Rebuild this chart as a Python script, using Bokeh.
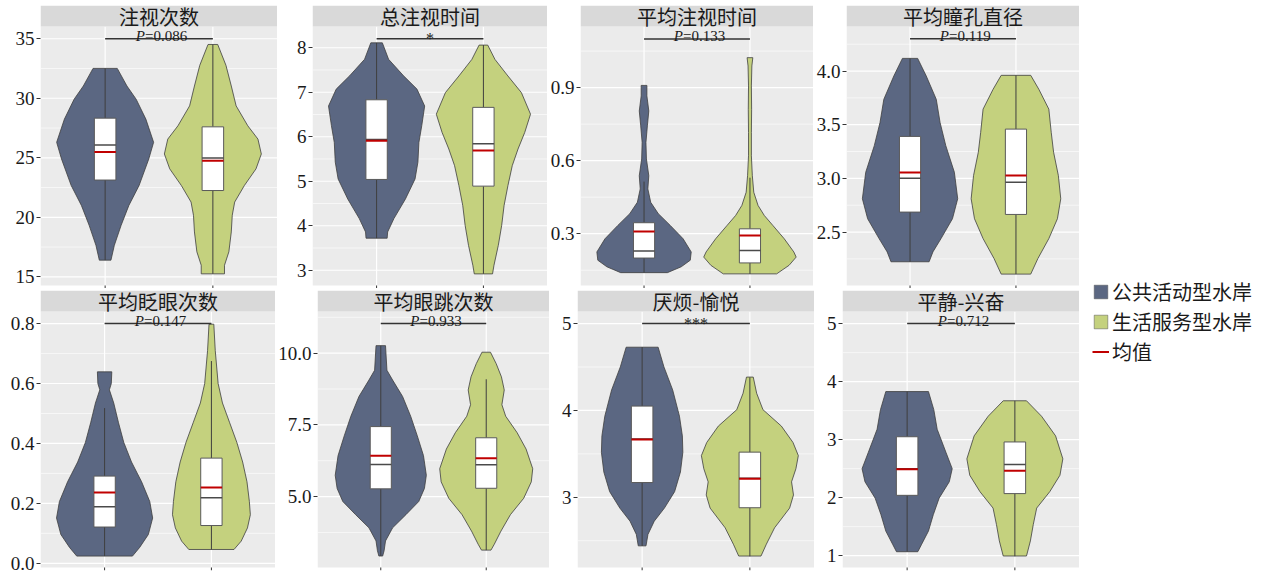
from bokeh.plotting import figure
from bokeh.layouts import row, column
from bokeh.models import Range1d, FixedTicker, Legend, LegendItem
from bokeh.core.properties import value
from bokeh.embed import file_html
from bokeh.resources import INLINE

# ---------------------------------------------------------------- data
GROUPS = ["公共活动型水岸", "生活服务型水岸"]
MEAN_LABEL = "均值"
TITLES = ["注视次数", "总注视时间", "平均注视时间", "平均瞳孔直径",
          "平均眨眼次数", "平均眼跳次数", "厌烦-愉悦", "平静-兴奋"]
SIG_LABELS = ["P=0.086", "*", "P=0.133", "P=0.119",
              "P=0.147", "P=0.933", "***", "P=0.712"]
BRACKET_Y = [35.0, 8.2, 1.10, 4.30, 0.80, 11.03, 5.0, 5.0]

Y_LIMITS = [(14.27, 36.03), (2.657, 8.477), (0.0872, 1.151), (2.002, 4.415),
            (-0.0141, 0.8404), (2.528, 11.452), (2.192, 5.139), (0.796, 5.209)]
Y_TICKS = [[15, 20, 25, 30, 35], [3, 4, 5, 6, 7, 8], [0.3, 0.6, 0.9],
           [2.5, 3.0, 3.5, 4.0], [0.0, 0.2, 0.4, 0.6, 0.8], [5.0, 7.5, 10.0],
           [3, 4, 5], [1, 2, 3, 4, 5]]
Y_TICK_LABELS = [["15", "20", "25", "30", "35"], ["3", "4", "5", "6", "7", "8"],
                 ["0.3", "0.6", "0.9"], ["2.5", "3.0", "3.5", "4.0"],
                 ["0.0", "0.2", "0.4", "0.6", "0.8"], ["5.0", "7.5", "10.0"],
                 ["3", "4", "5"], ["1", "2", "3", "4", "5"]]

# box statistics, 公共活动型水岸
PUB_Q1 = [23.13, 5.04, 0.200, 2.686, 0.121, 5.27, 3.17, 2.04]
PUB_MED = [26.07, 5.94, 0.229, 3.002, 0.189, 6.12, 3.67, 2.50]
PUB_Q3 = [28.33, 6.83, 0.345, 3.391, 0.291, 7.44, 4.05, 3.05]
PUB_MEAN = [25.48, 5.91, 0.309, 3.054, 0.236, 6.42, 3.665, 2.49]
PUB_WLO = [16.40, 3.72, 0.140, 2.223, 0.024, 2.93, 2.44, 1.07]
PUB_WHI = [32.51, 8.11, 0.514, 4.118, 0.518, 10.26, 4.73, 3.83]

# box statistics, 生活服务型水岸
LIV_Q1 = [22.25, 4.89, 0.180, 2.664, 0.126, 5.29, 2.88, 2.07]
LIV_MED = [24.98, 5.84, 0.231, 2.965, 0.219, 6.11, 3.22, 2.57]
LIV_Q3 = [27.60, 6.66, 0.320, 3.459, 0.351, 7.05, 3.52, 2.96]
LIV_MEAN = [24.76, 5.69, 0.293, 3.026, 0.253, 6.34, 3.215, 2.465]
LIV_WLO = [15.25, 2.92, 0.135, 2.108, 0.046, 3.13, 2.32, 0.99]
LIV_WHI = [34.52, 8.06, 0.530, 3.960, 0.675, 9.09, 4.38, 3.67]

# violin outlines: value levels and relative half-widths (1 = widest)
PUB_VIOLIN_Y = [
    [32.51, 31.03, 29.92, 28.25, 26.3, 24.9, 22.67, 21.0, 19.33, 17.65, 16.4],
    [8.11, 7.74, 7.37, 7.07, 6.69, 6.25, 5.87, 5.43, 5.05, 4.60, 4.16, 3.86, 3.72],
    [0.909, 0.866, 0.804, 0.743, 0.675, 0.607, 0.538, 0.484, 0.429, 0.382,
     0.334, 0.279, 0.225, 0.191, 0.164, 0.140],
    [4.118, 3.954, 3.737, 3.521, 3.305, 3.057, 2.810, 2.624, 2.439, 2.315, 2.223],
    [0.639, 0.600, 0.579, 0.535, 0.469, 0.403, 0.338, 0.272, 0.206, 0.151,
     0.096, 0.053, 0.024],
    [10.262, 9.404, 9.061, 8.489, 7.802, 7.116, 6.429, 5.743, 5.285, 4.828,
     4.370, 3.912, 3.454, 3.111, 2.928],
    [4.728, 4.501, 4.236, 3.934, 3.707, 3.518, 3.291, 3.065, 2.876, 2.725, 2.573, 2.441],
    [3.829, 3.517, 3.178, 2.782, 2.499, 2.274, 1.991, 1.707, 1.424, 1.198, 1.068],
]
PUB_VIOLIN_W = [
    [0.25, 0.45, 0.64, 0.84, 1.0, 0.9, 0.7, 0.49, 0.33, 0.19, 0.12],
    [0.12, 0.25, 0.56, 0.84, 1.0, 0.94, 0.88, 0.86, 0.8, 0.6, 0.36, 0.23, 0.22],
    [0.06, 0.06, 0.1, 0.07, 0.04, 0.05, 0.1, 0.08, 0.14, 0.3, 0.55, 0.82, 0.99,
     0.97, 0.78, 0.49],
    [0.16, 0.34, 0.55, 0.63, 0.75, 0.93, 1.0, 0.89, 0.65, 0.48, 0.4],
    [0.15, 0.14, 0.1, 0.19, 0.29, 0.4, 0.56, 0.77, 0.94, 1.0, 0.91, 0.73, 0.58],
    [0.1, 0.13, 0.25, 0.46, 0.63, 0.77, 0.9, 0.96, 0.92, 0.8, 0.53, 0.25, 0.1,
     0.07, 0.04],
    [0.33, 0.45, 0.63, 0.77, 0.83, 0.84, 0.79, 0.67, 0.46, 0.25, 0.12, 0.08],
    [0.44, 0.55, 0.62, 0.8, 0.93, 0.87, 0.66, 0.54, 0.44, 0.3, 0.22],
]
LIV_VIOLIN_Y = [
    [34.52, 32.77, 31.03, 29.36, 27.69, 26.57, 25.32, 24.07, 22.67, 21.28,
     20.17, 18.77, 17.1, 15.97, 15.25],
    [8.059, 7.738, 7.365, 6.992, 6.507, 6.097, 5.724, 5.350, 4.902, 4.455,
     4.007, 3.559, 3.112, 2.918],
    [1.023, 0.989, 0.907, 0.811, 0.716, 0.620, 0.538, 0.470, 0.416, 0.375,
     0.334, 0.279, 0.225, 0.204, 0.170, 0.135],
    [3.960, 3.830, 3.645, 3.429, 3.243, 3.026, 2.810, 2.624, 2.439, 2.253, 2.108],
    [0.798, 0.710, 0.600, 0.535, 0.469, 0.403, 0.338, 0.272, 0.206, 0.162,
     0.118, 0.074, 0.046],
    [10.033, 9.633, 9.175, 8.717, 8.202, 7.802, 7.230, 6.657, 5.971, 5.514,
     4.942, 4.370, 3.797, 3.339, 3.134],
    [4.384, 4.198, 4.009, 3.820, 3.631, 3.480, 3.329, 3.178, 3.027, 2.876,
     2.649, 2.460, 2.324],
    [3.670, 3.404, 3.065, 2.669, 2.386, 2.103, 1.820, 1.537, 1.254, 0.994],
]
LIV_VIOLIN_W = [
    [0.1, 0.27, 0.38, 0.48, 0.72, 0.93, 1.0, 0.89, 0.65, 0.45, 0.4, 0.38, 0.33,
     0.24, 0.24],
    [0.09, 0.24, 0.51, 0.79, 0.98, 0.86, 0.72, 0.6, 0.51, 0.43, 0.38, 0.31, 0.22, 0.19],
    [0.06, 0.04, 0.03, 0.035, 0.03, 0.03, 0.05, 0.08, 0.17, 0.3, 0.48, 0.72,
     0.92, 0.97, 0.82, 0.56],
    [0.31, 0.48, 0.69, 0.74, 0.79, 0.89, 0.94, 0.87, 0.69, 0.46, 0.31],
    [0.05, 0.08, 0.14, 0.23, 0.38, 0.53, 0.65, 0.74, 0.79, 0.81, 0.75, 0.62, 0.47],
    [0.09, 0.21, 0.32, 0.38, 0.33, 0.41, 0.65, 0.84, 0.98, 0.95, 0.79, 0.51,
     0.31, 0.17, 0.1],
    [0.07, 0.14, 0.27, 0.65, 0.89, 1.0, 0.95, 0.86, 0.9, 0.82, 0.51, 0.34, 0.23],
    [0.24, 0.55, 0.84, 0.99, 0.93, 0.72, 0.45, 0.38, 0.32, 0.24],
]

# ---------------------------------------------------------------- style
PUB_COLOR = "#5B6782"
LIV_COLOR = "#C4D17E"
EDGE = "#3F3F3F"
MEAN_COLOR = "#C00000"
PANEL_BG = "#EBEBEB"
STRIP_BG = "#D9D9D9"
SERIF = "Liberation Serif"
CJK = "Noto Sans CJK SC"
LEGEND_FONT = "Liberation Serif, Noto Sans CJK SC"

STRIP_PX, TICK_PX = 21, 3
ROW_PANEL_PX = [259, 256]
ROW_BOTTOMS = [0, 4]
HALF_WIDTH = 0.45
BOX_HALF = 0.10

# figure widths / left borders, so that every panel lands in its column
ROW_WIDTHS = [[277, 270, 266, 266], [275, 274, 265, 265]]
ROW_LEFTS = [[40, 35, 31, 31], [40, 40, 28, 28]]
ROW_TOPS = [5, 2]


def minor_values(ticks, lo, hi):
    step = ticks[1] - ticks[0]
    cands = [ticks[0] - step / 2] + [t + step / 2 for t in ticks]
    return [c for c in cands if lo < c < hi]


def violin(p, xc, ys, ws, color):
    left = [xc - HALF_WIDTH * w for w in ws]
    right = [xc + HALF_WIDTH * w for w in ws]
    p.patch(left + right[::-1], ys + ys[::-1], fill_color=color,
            line_color=EDGE, line_width=0.8)


def box(p, xc, q1, med, q3, wlo, whi, mean):
    p.segment(x0=[xc, xc], y0=[wlo, q3], x1=[xc, xc], y1=[q1, whi],
              line_color=EDGE, line_width=1)
    p.quad(left=[xc - BOX_HALF], right=[xc + BOX_HALF], bottom=[q1], top=[q3],
           fill_color="white", line_color="#5A5A5A", line_width=1)
    p.segment(x0=[xc - BOX_HALF], y0=[med], x1=[xc + BOX_HALF], y1=[med],
              line_color="#4A4A4A", line_width=1.5)
    p.segment(x0=[xc - BOX_HALF], y0=[mean], x1=[xc + BOX_HALF], y1=[mean],
              line_color=MEAN_COLOR, line_width=2)


def make_panel(i, width, left, top, panel_px, bottom):
    lo, hi = Y_LIMITS[i]
    per_px = (hi - lo) / panel_px
    y0 = lo - TICK_PX * per_px
    y1 = hi + STRIP_PX * per_px
    p = figure(width=width, height=top + STRIP_PX + panel_px + TICK_PX + bottom,
               x_range=Range1d(0.4, 2.6), y_range=Range1d(y0, y1),
               x_axis_location=None, y_axis_location="left",
               toolbar_location=None, output_backend="svg",
               min_border_left=left, min_border_right=0,
               min_border_top=top, min_border_bottom=bottom,
               background_fill_color="white", border_fill_color="white",
               outline_line_color=None)
    p.grid.visible = False

    ax = p.yaxis[0]
    ax.ticker = FixedTicker(ticks=Y_TICKS[i], minor_ticks=[])
    ax.major_label_overrides = dict(zip(Y_TICKS[i], Y_TICK_LABELS[i]))
    ax.axis_line_color = None
    ax.major_tick_line_color = "#333333"
    ax.major_tick_out = 4
    ax.major_tick_in = 0
    ax.minor_tick_line_color = None
    ax.major_label_standoff = 2
    ax.major_label_text_font = SERIF
    ax.major_label_text_font_size = "19px"
    ax.major_label_text_color = "#1A1A1A"

    # panel background, grid and strip
    p.quad(left=[0.4], right=[2.6], bottom=[lo], top=[hi], fill_color=PANEL_BG,
           line_color=None)
    minors = minor_values(Y_TICKS[i], lo, hi)
    p.segment(x0=[0.4] * len(minors), y0=minors, x1=[2.6] * len(minors), y1=minors,
              line_color="white", line_width=0.6)
    p.segment(x0=[0.4] * len(Y_TICKS[i]), y0=Y_TICKS[i], x1=[2.6] * len(Y_TICKS[i]),
              y1=Y_TICKS[i], line_color="white", line_width=1.2)
    p.segment(x0=[1, 2], y0=[lo, lo], x1=[1, 2], y1=[hi, hi],
              line_color="white", line_width=1.2)
    p.segment(x0=[1, 2], y0=[lo, lo], x1=[1, 2], y1=[y0, y0],
              line_color="#333333", line_width=1)
    p.quad(left=[0.4], right=[2.6], bottom=[hi], top=[y1], fill_color=STRIP_BG,
           line_color=None)
    p.text(x=[1.5], y=[hi + STRIP_PX * per_px / 2], text=[TITLES[i]],
           text_font=value(CJK), text_font_size="20px", text_color="#1A1A1A",
           text_align="center", text_baseline="middle")

    # violins with inner boxes
    violin(p, 1, PUB_VIOLIN_Y[i], PUB_VIOLIN_W[i], PUB_COLOR)
    violin(p, 2, LIV_VIOLIN_Y[i], LIV_VIOLIN_W[i], LIV_COLOR)
    box(p, 1, PUB_Q1[i], PUB_MED[i], PUB_Q3[i], PUB_WLO[i], PUB_WHI[i], PUB_MEAN[i])
    box(p, 2, LIV_Q1[i], LIV_MED[i], LIV_Q3[i], LIV_WLO[i], LIV_WHI[i], LIV_MEAN[i])

    # significance bracket
    yb = BRACKET_Y[i]
    p.segment(x0=[1], y0=[yb], x1=[2], y1=[yb], line_color="#333333", line_width=1.5)
    lab = SIG_LABELS[i]
    if lab.startswith("P="):
        p.text(x=[1.5], y=[yb], text=["P"], text_font=value(SERIF),
               text_font_style="italic", text_font_size="15px", text_color="#1A1A1A",
               text_align="right", text_baseline="alphabetic", x_offset=-14, y_offset=-3)
        p.text(x=[1.5], y=[yb], text=[lab[1:]], text_font=value(SERIF),
               text_font_size="15px", text_color="#1A1A1A",
               text_align="left", text_baseline="alphabetic", x_offset=-14, y_offset=-3)
    else:
        p.text(x=[1.5], y=[yb], text=[lab], text_font=value(SERIF),
               text_font_size="16px", text_color="#1A1A1A",
               text_align="center", text_baseline="alphabetic", y_offset=0)
    return p


rows = []
for r in range(2):
    figs = [make_panel(r * 4 + c, ROW_WIDTHS[r][c], ROW_LEFTS[r][c], ROW_TOPS[r],
                       ROW_PANEL_PX[r], ROW_BOTTOMS[r])
            for c in range(4)]
    rows.append(row(*figs))

# legend column
lg = figure(width=186, height=574, x_range=Range1d(0, 1), y_range=Range1d(0, 1),
            x_axis_location=None, y_axis_location=None, toolbar_location=None,
            output_backend="svg", min_border=0, outline_line_color=None,
            background_fill_color="white", border_fill_color="white")
lg.grid.visible = False
r_pub = lg.quad(left=[2], right=[3], bottom=[2], top=[3], fill_color=PUB_COLOR,
                line_color="#555555", line_width=0.5)
r_liv = lg.quad(left=[2], right=[3], bottom=[2], top=[3], fill_color=LIV_COLOR,
                line_color="#555555", line_width=0.5)
r_mean = lg.line(x=[2, 3], y=[2, 2], line_color=MEAN_COLOR, line_width=2)
legend = Legend(items=[LegendItem(label=GROUPS[0], renderers=[r_pub]),
                       LegendItem(label=GROUPS[1], renderers=[r_liv]),
                       LegendItem(label=MEAN_LABEL, renderers=[r_mean])],
                location=(13, 208), glyph_width=17, glyph_height=17,
                label_text_font=LEGEND_FONT, label_text_font_size="20px",
                label_text_color="#1A1A1A", label_standoff=3, label_height=17,
                spacing=1, padding=0, margin=0, border_line_color=None,
                background_fill_alpha=0)
lg.add_layout(legend)

page = row(column(*rows), lg)
open("out.html", "w").write(file_html(page, INLINE))
